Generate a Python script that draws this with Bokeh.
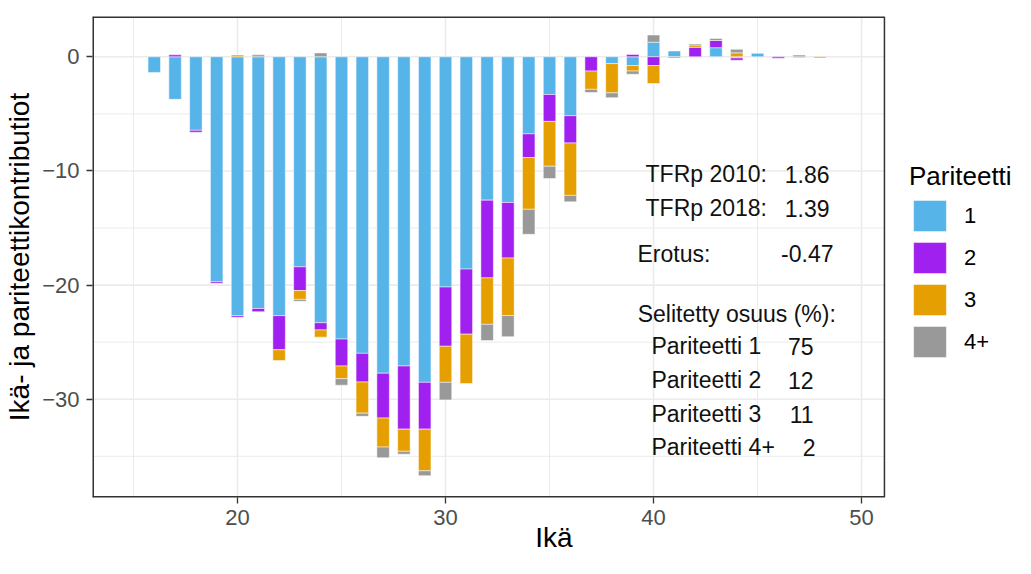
import numpy as np
from bokeh.plotting import figure
from bokeh.models import ColumnDataSource, Range1d, FixedTicker, Legend, LegendItem
from bokeh.core.properties import value
from bokeh.embed import file_html
from bokeh.resources import INLINE

# ---------------- data ----------------
ages = list(range(16, 49))
parity_labels = ["1", "2", "3", "4+"]
p1 = [-1.37, -3.73, -6.44, -19.69, -22.68, -22.05, -22.68, -18.40, -23.30, -24.73,
      -25.98, -27.72, -27.09, -28.52, -20.17, -18.60, -12.56, -12.76, -6.75, -3.30,
      -5.16, 0.0, -0.60, -0.77, 1.28, 0.51, 0.0, 0.80, -0.10, 0.30, 0.0, -0.08, 0.0]
p2 = [0.0, 0.17, -0.17, -0.14, -0.14, -0.28, -2.99, -2.08, -0.63, -2.36,
      -2.51, -3.93, -5.53, -4.10, -5.19, -5.70, -6.81, -4.87, -2.08, -2.36,
      -2.39, -1.25, 0.0, 0.20, -0.77, 0.0, 0.83, 0.63, -0.20, 0.0, -0.12, 0.0, 0.0]
p3 = [0.0, 0.0, 0.0, 0.0, 0.15, 0.0, -0.94, -0.77, -0.63, -1.11,
      -2.73, -2.54, -1.94, -3.65, -3.16, -4.33, -4.07, -5.04, -4.53, -3.93,
      -4.59, -1.60, -2.56, -0.48, -1.57, 0.0, 0.20, 0.0, 0.35, 0.0, 0.0, 0.0, -0.10]
p4 = [0.0, 0.0, 0.0, 0.0, 0.0, 0.17, 0.0, -0.17, 0.34, -0.57,
      -0.28, -0.94, -0.26, -0.43, -1.54, 0.0, -1.42, -1.85, -2.19, -1.08,
      -0.57, -0.28, -0.42, -0.28, 0.63, -0.11, 0.10, 0.18, 0.30, 0.0, 0.0, 0.15, 0.0]
colors = ["#56B4E9", "#A020F0", "#E69F00", "#999999"]

x_ticks = [20, 30, 40, 50]
x_minor = [15, 25, 35, 45]
y_ticks = [-30, -20, -10, 0]
y_minor = [-35, -25, -15, -5]
y_tick_labels = ["\u221230", "\u221220", "\u221210", "0"]

x_title = "Ik\u00e4"
y_title = "Ik\u00e4- ja pariteettikontributiot"
legend_title = "Pariteetti"

ann_rows_left = ["TFRp 2010:", "TFRp 2018:", "Erotus:", "Pariteetti 1", "Pariteetti 2",
                 "Pariteetti 3", "Pariteetti 4+"]
ann_rows_right = ["1.86", "1.39", "-0.47", "75", "12", "11", "2"]
ann_header = "Selitetty osuus (%):"

# ---------------- layout constants ----------------
X_LO, X_HI = 13.03, 51.1          # panel extent (data units)
Y_LO, Y_HI = -38.61, 3.53
X_CANVAS_HI = 57.40               # frame extends right to hold the legend
ann_left_x = [39.615, 39.615, 39.23, 39.90, 39.90, 39.90, 39.90]
ann_right_x = [48.46, 48.46, 48.65, 47.69, 47.69, 47.69, 47.79]
ann_y = [-10.30, -13.27, -17.26, -25.38, -28.34, -31.33, -34.19]
ann_header_x, ann_header_y = 44.0, -22.50

FONT = "Liberation Sans"
GRID = "#EBEBEB"
BORDER = "#333333"

p = figure(width=1015, height=558, output_backend="svg", toolbar_location=None,
           x_range=Range1d(X_LO, X_CANVAS_HI), y_range=Range1d(Y_LO, Y_HI),
           min_border_left=92, min_border_right=0, min_border_top=16, min_border_bottom=61)
p.background_fill_color = "white"
p.border_fill_color = "white"
p.outline_line_color = None
p.xgrid.visible = False
p.ygrid.visible = False

# ---------------- panel grid (drawn within panel only) ----------------
vx = x_minor + x_ticks
vw = [1.0] * len(x_minor) + [1.6] * len(x_ticks)
p.segment(x0=vx, x1=vx, y0=[Y_LO] * len(vx), y1=[Y_HI] * len(vx), line_color=GRID, line_width=vw)
hy = y_minor + y_ticks
hw = [1.0] * len(y_minor) + [1.6] * len(y_ticks)
p.segment(x0=[X_LO] * len(hy), x1=[X_HI] * len(hy), y0=hy, y1=hy, line_color=GRID, line_width=hw)

# ---------------- stacked bars ----------------
pos_base = np.zeros(len(ages))
neg_base = np.zeros(len(ages))
ages_arr = np.array(ages, dtype=float)
renderers = []
for vals, col in zip([p1, p2, p3, p4], colors):
    v = np.array(vals, dtype=float)
    bottom = np.where(v >= 0, pos_base, neg_base)
    top = bottom + v
    pos_base = np.where(v >= 0, top, pos_base)
    neg_base = np.where(v < 0, top, neg_base)
    m = v != 0
    src = ColumnDataSource(dict(x=ages_arr[m], bottom=bottom[m], top=top[m]))
    r = p.vbar(x="x", width=0.6, bottom="bottom", top="top", source=src,
               fill_color=col, line_color="white", line_width=0.5)
    renderers.append(r)

# ---------------- panel border ----------------
# edges lying on the frame edge are half clipped, so draw them twice as wide
p.segment(x0=[X_LO, X_LO, X_LO], x1=[X_LO, X_HI, X_HI], y0=[Y_LO, Y_HI, Y_LO], y1=[Y_HI, Y_HI, Y_LO],
          line_color=BORDER, line_width=3)
p.segment(x0=[X_HI], x1=[X_HI], y0=[Y_LO], y1=[Y_HI], line_color=BORDER, line_width=1.5)

# ---------------- axes ----------------
p.xaxis.ticker = FixedTicker(ticks=x_ticks, minor_ticks=x_minor)
p.yaxis.ticker = FixedTicker(ticks=y_ticks, minor_ticks=y_minor)
p.xaxis.bounds = (X_LO, X_HI)
p.yaxis.major_label_overrides = {t: lab for t, lab in zip(y_ticks, y_tick_labels)}
for ax in (p.xaxis, p.yaxis):
    ax.axis_line_color = None
    ax.major_tick_line_color = BORDER
    ax.major_tick_line_width = 1.3
    ax.major_tick_out = 6
    ax.major_tick_in = 0
    ax.minor_tick_line_color = None
    ax.major_label_text_font = FONT
    ax.major_label_text_font_size = "22px"
    ax.major_label_text_color = "#4D4D4D"
    ax.axis_label_text_font = FONT
    ax.axis_label_text_font_size = "28px"
    ax.axis_label_text_font_style = "normal"
    ax.axis_label_text_color = "black"
p.xaxis.axis_label = x_title
p.yaxis.axis_label = y_title
p.xaxis.major_label_standoff = 6
p.xaxis.axis_label_standoff = -6
p.yaxis.major_label_standoff = 7
p.yaxis.axis_label_standoff = 4

# ---------------- annotation text ----------------
tkw = dict(text_font=value(FONT), text_font_size=value("23px"), text_color="#111111",
           text_baseline="middle")
p.text(x=ann_left_x, y=ann_y, text=ann_rows_left, text_align="left", **tkw)
p.text(x=ann_right_x, y=ann_y, text=ann_rows_right, text_align="right", **tkw)
p.text(x=[ann_header_x], y=[ann_header_y], text=[ann_header], text_align="center", **tkw)

# ---------------- legend (inside the extended frame, right of the panel) ----------------
legend = Legend(items=[LegendItem(label=lab, renderers=[r]) for lab, r in zip(parity_labels, renderers)],
                title=legend_title, location=(817, 136), orientation="vertical")
legend.title_text_font = FONT
legend.title_text_font_size = "26px"
legend.title_text_color = "black"
legend.title_text_font_style = "normal"
legend.title_standoff = 4
legend.label_text_font = FONT
legend.label_text_font_size = "22px"
legend.label_text_color = "black"
legend.glyph_width = 41
legend.glyph_height = 39
legend.label_height = 39
legend.label_standoff = 14
legend.spacing = 3
legend.padding = 0
legend.margin = 0
legend.background_fill_alpha = 0
legend.border_line_alpha = 0
p.add_layout(legend)

open("out.html", "w").write(file_html(p, INLINE))
